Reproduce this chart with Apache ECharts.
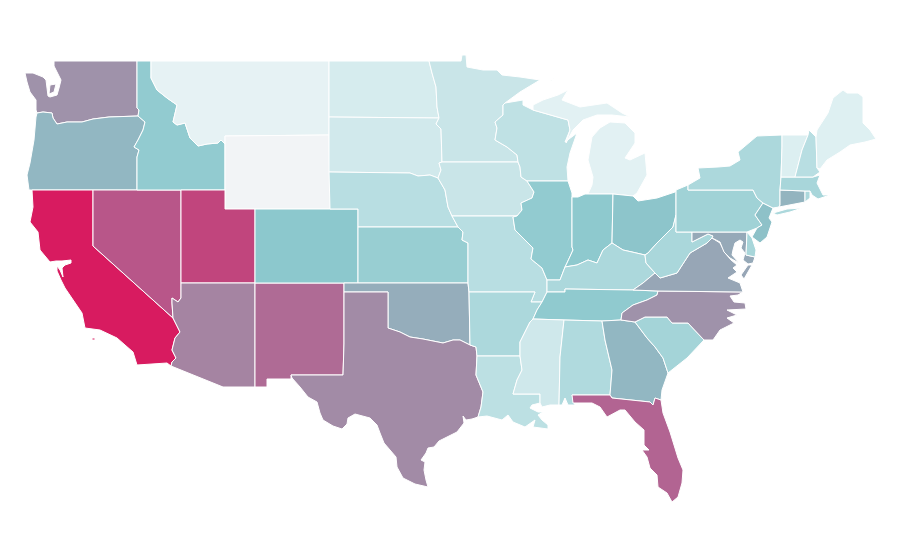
<!DOCTYPE html>
<html>
<head>
<meta charset="utf-8">
<title>US states</title>
<style>
html, body { margin: 0; background: #fff; }
#chart { width: 900px; height: 560px; }
</style>
<script src="https://cdn.jsdelivr.net/npm/echarts@6/dist/echarts.min.js"></script>
</head>
<body>
<div id="chart"></div>
<script>
var stateNames = ['WA','OR','CA','NV','ID','MT','WY','UT','AZ','NM','CO','ND','SD','NE','KS','OK','TX','MN','IA','MO','AR','LA','WI','IL','MI','IN','OH','KY','TN','MS','AL','GA','FL','SC','NC','VA','WV','MD','DE','PA','NJ','NY','CT','RI','MA','VT','NH','ME'];
var stateValues = [66,55,100,83,47,6,0,88,70,77,50,14,16,28,44,58,68,20,20,28,34,26,25,47,8,49,51,34,48,17,32,55,79,38,66,60,35,59,36,40,52,34,56,34,36,11,28,10];
var colorStops = ['#f2f4f6', '#def0f2', '#c9e5e8', '#b4dce0', '#a0d2d6', '#8cc8cd', '#97a6b6', '#a584a2', '#b36090', '#c53e78', '#d81b60'];

var borders = {
  waOr: '37,113 43,112 52,113 53,118 57,124 67,122 82,122 93,119 109,117 138,116',
  orId: '138,116 145,122 143,130 138,140 134,147 139,150 137,157 137,190',
  idMt: '151,61 151,78 157,90 167,98 177,105 173,122 177,125 185,123 190,138 198,146 207,144 218,143 221,140 225,144',
  nvAz: '181,283 181,298 178,302 172,298 172,303 173,318',
  caNv: '93,190 93,246 173,318',
  caAz: '173,318 180,332 175,338 172,350 176,358 172,362 171,366',
  redRiver: '388,328 400,332 410,337 423,339 433,341 443,343 453,340 460,340 470,345',
  ndMn: '429,61 432,73 436,87 437,107 439,118',
  sdMn: '439,118 436,124 441,129 442,162',
  sdIa: '442,162 439,163 441,170 438,178',
  neIa: '438,178 445,190 448,207 452,216',
  neMo: '452,216 458,227',
  ksMo: '458,227 463,232 462,240 468,243 468,283',
  mnWi: '505,103 503,105 503,115 495,122 497,128 495,140 507,147 517,155 518,162',
  wiIa: '518,162 520,167 521,177 527,181',
  iaIl: '527,181 534,192 532,198 521,203 522,210 517,216',
  moIl: '517,216 513,217 515,230 527,242 533,248 531,259 542,268 547,280',
  ilKy: '547,280 553,280 560,280 565,267',
  inKy: '565,267 577,265 588,260 597,263 603,250 612,243',
  ohKy: '612,243 623,250 632,252 645,255',
  ilIn: '572,197 572,247 573,250 567,263 565,267',
  ohWv: '645,255 648,253 657,243 673,227 676,215',
  kyWv: '645,255 646,263 655,273',
  wvVa: '655,273 660,278 677,273 690,253 707,243 712,238',
  arTn: '542,302 537,310 533,319',
  arMs: '533,319 530,322 520,342 520,356',
  laMs: '520,356 522,370 517,380 513,394 540,394 540,403',
  txLa: '477,356 476,375 483,392 481,407 478,417',
  alGa: '602,321 605,340 612,370 610,395',
  gaFl: '610,395 612,398 650,402 653,405 655,398 661,400',
  gaSc: '635,322 647,338 655,347 663,358 668,373',
  ncSc: '635,322 645,317 667,317 672,323 688,323 704,340',
  tnNc: '621,320 622,313 633,305 647,300 657,295 658,291',
  paNj: '763,203 755,215 762,225 757,228 747,232',
  nyVt: '782,135 782,147 781,177',
  nyMa: '781,177 780,190',
  nyCt: '780,190 780,205 779,207',
  vtNh: '808,135 802,150 795,177'
};

var stateRings = {
  WA: ['54,61 54,66 57,72 60,78 61,80 59,88 57,95 50,97 48,96 47,88 46,80 43,77 33,73 25,73 27,82 30,92 33,96 36,100 36,110 waOr 139,110 137,108 137,61',
       '50,85 56,84 54,92 49,94'],
  OR: ['waOr orId 29,190 27,175 30,163 34,140 36,117'],
  CA: ['32,190 caNv caAz 167,363 137,365 133,352 117,338 100,330 85,328 82,313 65,288 61,280 57,271 57,266 60,270 63,277 62,268 65,265 71,263 71,260 62,261 56,261 50,262 40,250 38,232 30,222 33,207',
       '92,338 95,338 95,340 92,340', '96,338 97,338 97,339 96,339', '99,338 100,338 100,339 99,339', '117,349 118,349 118,351 117,351'],
  NV: ['caNv -nvAz 181,190'],
  ID: ['137,61 idMt 225,190 -orId 139,110 137,108'],
  MT: ['151,61 329,61 329,135 225,136 225,144 -idMt'],
  WY: ['225,136 329,135 330,209 255,209 225,209'],
  UT: ['181,190 225,190 225,209 255,209 255,283 181,283'],
  AZ: ['181,283 255,283 255,387 223,387 -caAz -nvAz'],
  NM: ['255,283 344,283 344,344 343,375 291,375 291,379 267,379 267,387 255,387'],
  CO: ['255,209 330,209 358,209 358,283 255,283'],
  ND: ['329,61 ndMn 329,117'],
  SD: ['329,117 sdMn sdIa 430,175 418,176 410,173 329,172'],
  NE: ['329,172 410,173 418,176 430,175 neIa neMo 358,227 358,209 330,209'],
  KS: ['358,227 ksMo 358,283'],
  OK: ['344,283 468,283 469,292 -redRiver 388,292 344,292'],
  TX: ['344,292 388,292 redRiver 476,347 txLa 472,419 466,420 463,416 464,423 457,432 447,437 439,441 434,447 428,448 426,453 421,460 425,462 424,470 426,480 428,487 415,484 403,478 397,467 396,457 390,450 384,443 380,433 377,425 370,418 355,414 348,418 347,424 342,429 333,426 323,420 320,413 317,402 308,397 300,387 292,378 291,375 343,375 344,344'],
  MN: ['429,61 461,61 462,55 466,55 467,67 483,70 497,70 502,75 520,77 540,80 520,92 mnWi 442,162 -sdMn -ndMn'],
  IA: ['442,162 518,162 wiIa iaIl 452,216 -neIa -sdIa'],
  MO: ['452,216 517,216 moIl 547,292 542,302 531,302 535,292 469,292 -ksMo -neMo'],
  AR: ['469,292 535,292 531,302 arTn arMs 477,356 476,347 470,345'],
  LA: ['477,356 laMs 532,405 530,408 538,412 543,412 538,415 542,420 548,425 548,429 533,427 535,420 525,427 513,422 508,415 502,420 487,416 -txLa'],
  WI: ['505,103 523,100 523,105 533,110 568,120 570,130 565,142 577,133 570,153 567,167 568,181 527,181 -wiIa -mnWi'],
  IL: ['527,181 568,181 572,193 ilIn -ilKy -moIl -iaIl'],
  MI: ['588,194 592,185 593,177 588,160 592,137 600,128 610,122 625,123 635,133 635,143 625,158 630,160 645,153 647,175 637,193 633,196 613,194',
       '533,105 543,100 558,95 568,90 562,100 580,107 607,103 622,113 630,117 612,115 597,115 583,120 573,130 566,143 565,142 570,130 568,120 533,110',
       '550,81 555,78 552,81'],
  IN: ['572,197 578,197 585,194 613,194 612,243 -inKy -ilIn'],
  OH: ['613,194 633,196 638,201 657,198 675,192 676,190 676,215 -ohWv -ohKy'],
  KY: ['ilKy inKy ohKy kyWv 643,283 633,290 565,289 565,292 547,292'],
  TN: ['547,292 565,292 565,289 633,290 -tnNc 602,321 564,320 -arTn'],
  MS: ['533,319 564,320 560,357 559,405 550,405 542,407 -laMs -arMs'],
  AL: ['564,320 alGa 572,395 575,405 568,405 565,398 562,405 559,405 560,357'],
  GA: ['602,321 621,320 gaSc 662,390 -gaFl -alGa'],
  FL: ['572,395 gaFl 663,413 670,432 678,458 683,470 682,483 678,497 672,502 667,493 658,487 657,475 650,468 647,457 642,450 649,450 644,445 644,430 635,422 625,410 620,410 607,417 600,407 592,403 573,403'],
  SC: ['ncSc 687,358 -gaSc'],
  NC: ['658,291 743,292 738,295 730,296 734,302 745,303 746,309 727,310 737,315 727,318 734,323 720,330 713,340 -ncSc 621,320 tnNc'],
  VA: ['633,290 643,283 wvVa 720,243 725,253 731,260 737,265 733,268 737,272 728,278 740,283 743,292 658,291',
       '752,265 748,265 741,275 744,279'],
  WV: ['676,215 676,232 692,232 692,242 700,238 708,234 713,236 -wvVa -kyWv ohWv'],
  MD: ['692,232 747,232 746,255 755,257 753,263 748,264 743,260 745,253 741,248 743,242 740,240 735,243 733,250 732,255 739,263 730,258 724,252 720,242 712,238 713,236 708,234 700,238 692,242'],
  DE: ['747,232 752,238 756,250 755,257 746,255'],
  PA: ['676,190 688,185 688,190 753,190 757,198 paNj 692,232 676,232 676,215'],
  NJ: ['763,203 773,208 769,218 772,222 767,237 760,243 752,237 757,228 762,225 755,215'],
  NY: ['688,185 700,178 698,168 718,167 730,166 740,160 738,152 757,136 nyVt nyMa nyCt 773,208 763,203 757,198 753,190 688,190',
       '773,213 787,209 802,208 790,212 777,215'],
  CT: ['780,190 805,191 805,202 779,207 780,205'],
  RI: ['805,191 810,191 810,198 805,202'],
  MA: ['781,177 795,177 813,177 820,175 817,183 823,195 830,195 818,199 812,195 810,191 805,191 780,190'],
  VT: ['782,135 vtNh 781,177 782,147'],
  NH: ['809,130 816,137 817,168 820,172 813,177 795,177 802,150 808,135'],
  ME: ['817,130 828,113 833,98 843,90 847,93 858,93 863,97 863,123 870,130 876,139 865,142 850,145 840,152 827,160 820,169 817,168 816,137']
};

function toPoints(str) {
  return str.split(' ').map(function (p) {
    return p.split(',').map(Number);
  });
}

// a ring is a mix of x,y points and border names, -name runs a border backwards
function buildRing(spec) {
  var pts = [];
  spec.split(' ').forEach(function (tok) {
    if (/^-?[a-zA-Z]/.test(tok)) {
      var back = tok.charAt(0) === '-';
      var chain = toPoints(borders[back ? tok.slice(1) : tok]);
      if (back) chain.reverse();
      pts = pts.concat(chain);
    } else {
      pts.push(toPoints(tok)[0]);
    }
  });
  pts.push(pts[0]);
  return pts;
}

var features = stateNames.map(function (name) {
  return {
    type: 'Feature',
    properties: { name: name },
    geometry: {
      type: 'MultiPolygon',
      coordinates: stateRings[name].map(function (r) { return [buildRing(r)]; })
    }
  };
});
echarts.registerMap('usa', { type: 'FeatureCollection', features: features });

var minX = Infinity, minY = Infinity, maxX = -Infinity, maxY = -Infinity;
features.forEach(function (f) {
  f.geometry.coordinates.forEach(function (poly) {
    poly[0].forEach(function (p) {
      minX = Math.min(minX, p[0]); maxX = Math.max(maxX, p[0]);
      minY = Math.min(minY, p[1]); maxY = Math.max(maxY, p[1]);
    });
  });
});

var chart = echarts.init(document.getElementById('chart'), null, { renderer: 'canvas' });
chart.setOption({
  animation: false,
  backgroundColor: '#fff',
  visualMap: {
    show: false,
    min: 0,
    max: 100,
    inRange: { color: colorStops }
  },
  series: [{
    type: 'map',
    map: 'usa',
    silent: true,
    projection: {
      project: function (p) { return p; },
      unproject: function (p) { return p; }
    },
    left: minX,
    top: minY,
    width: maxX - minX,
    height: maxY - minY,
    itemStyle: { borderColor: '#fff', borderWidth: 1 },
    label: { show: false },
    emphasis: { disabled: true },
    data: stateNames.map(function (n, i) {
      return { name: n, value: stateValues[i] };
    })
  }]
});
</script>
</body>
</html>
